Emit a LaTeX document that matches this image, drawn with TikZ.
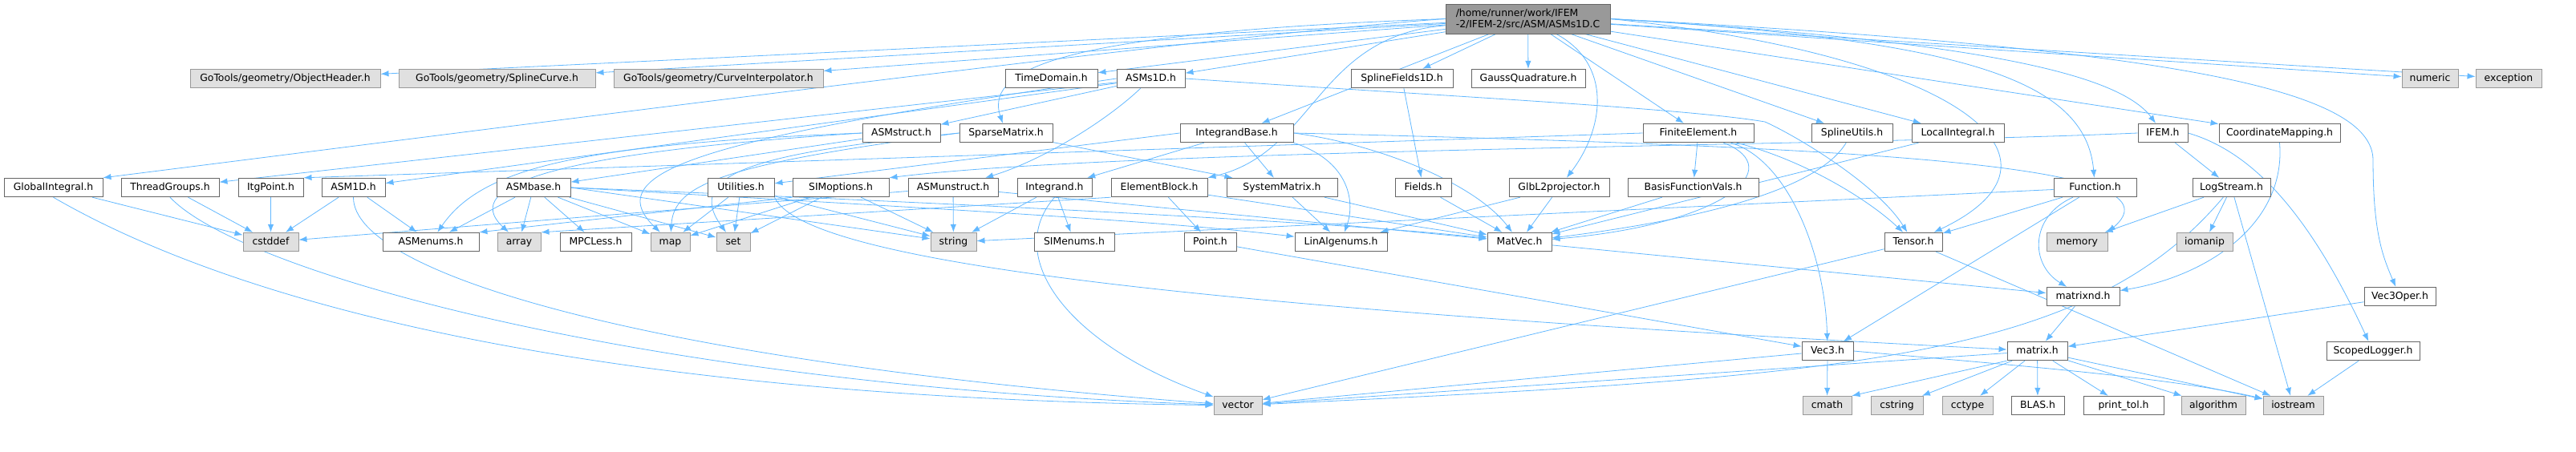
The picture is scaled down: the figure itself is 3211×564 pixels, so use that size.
\documentclass[tikz,border=0pt]{standalone}
\usepackage{fontspec}
\setmainfont{DejaVu Sans}
\usetikzlibrary{arrows.meta}
\definecolor{edgeblue}{HTML}{63B8FF}
\definecolor{boxline}{HTML}{666666}
\definecolor{sysline}{HTML}{999999}
\definecolor{sysfill}{HTML}{E0E0E0}
\definecolor{rootfill}{HTML}{999999}
\pgfdeclarelayer{back}
\pgfsetlayers{back,main}
\tikzset{>={Latex[length=10pt,width=7.5pt]},%
  nbox/.style={draw=boxline,fill=white,line width=0.9pt,inner xsep=2pt,inner ysep=0pt,
    font=\fontsize{12.4}{14.3}\selectfont},
  hdr/.style={nbox,minimum height=23.5pt,text height=9pt,text depth=2.6pt},
  sys/.style={hdr,draw=sysline,fill=sysfill},
  rootbox/.style={nbox,fill=rootfill,align=left,minimum height=37pt},
  dep/.style={->,draw=edgeblue,line width=0.8pt}}

\begin{document}
\begin{tikzpicture}[x=1pt,y=-1pt]
\useasboundingbox (0,0) rectangle (3211,564);

\node[rootbox,minimum width=205pt] (root) at (1904.5,23.5) {/home/runner/work/IFEM\\-2/IFEM-2/src/ASM/ASMs1D.C};

\node[sys,minimum width=237pt] (objhdr) at (355.5,98) {GoTools/geometry/ObjectHeader.h};
\node[sys,minimum width=245pt] (splcurve) at (619.5,98) {GoTools/geometry/SplineCurve.h};
\node[sys,minimum width=261pt] (curveint) at (895.5,98) {GoTools/geometry/CurveInterpolator.h};
\node[hdr,minimum width=115pt] (timedom) at (1310.5,98) {TimeDomain.h};
\node[hdr,minimum width=85pt] (asmsh) at (1434.5,98) {ASMs1D.h};
\node[hdr,minimum width=127pt] (splfld) at (1747.5,98) {SplineFields1D.h};
\node[hdr,minimum width=142pt] (gauss) at (1905,98) {GaussQuadrature.h};
\node[sys,minimum width=70pt] (numeric) at (3029,98) {numeric};
\node[sys,minimum width=82pt] (exception) at (3127,98) {exception};

\node[hdr,minimum width=97pt] (asmstruct) at (1123.5,166) {ASMstruct.h};
\node[hdr,minimum width=116pt] (sparse) at (1254,166) {SparseMatrix.h};
\node[hdr,minimum width=141pt] (intbase) at (1541.5,166) {IntegrandBase.h};
\node[hdr,minimum width=138pt] (finite) at (2117,166) {FiniteElement.h};
\node[hdr,minimum width=101pt] (splutil) at (2308.5,166) {SplineUtils.h};
\node[hdr,minimum width=115pt] (locint) at (2440.5,166) {LocalIntegral.h};
\node[hdr,minimum width=62pt] (ifem) at (2696,166) {IFEM.h};
\node[hdr,minimum width=151pt] (coordmap) at (2841.5,166) {CoordinateMapping.h};

\node[hdr,minimum width=123pt] (globint) at (66.5,234) {GlobalIntegral.h};
\node[hdr,minimum width=122pt] (thread) at (212,234) {ThreadGroups.h};
\node[hdr,minimum width=81pt] (itg) at (337.5,234) {ItgPoint.h};
\node[hdr,minimum width=79pt] (asm1d) at (440.5,234) {ASM1D.h};
\node[hdr,minimum width=92pt] (asmbase) at (665,234) {ASMbase.h};
\node[hdr,minimum width=83pt] (util) at (923.5,234) {Utilities.h};
\node[hdr,minimum width=120pt] (simopt) at (1048,234) {SIMoptions.h};
\node[hdr,minimum width=112pt] (asmun) at (1188,234) {ASMunstruct.h};
\node[hdr,minimum width=93pt] (integrand) at (1314.5,234) {Integrand.h};
\node[hdr,minimum width=120pt] (elblock) at (1445,234) {ElementBlock.h};
\node[hdr,minimum width=138pt] (sysmat) at (1598,234) {SystemMatrix.h};
\node[hdr,minimum width=70pt] (fields) at (1774,234) {Fields.h};
\node[hdr,minimum width=125pt] (glbl2) at (1943.5,234) {GlbL2projector.h};
\node[hdr,minimum width=163pt] (basisfv) at (2110.5,234) {BasisFunctionVals.h};
\node[hdr,minimum width=103pt] (function) at (2611.5,234) {Function.h};
\node[hdr,minimum width=97pt] (logstream) at (2781.5,234) {LogStream.h};

\node[sys,minimum width=69pt] (cstddef) at (337.5,302) {cstddef};
\node[hdr,minimum width=120pt] (asmenums) at (537,302) {ASMenums.h};
\node[sys,minimum width=54pt] (array) at (647,302) {array};
\node[hdr,minimum width=89pt] (mpcless) at (742.5,302) {MPCLess.h};
\node[sys,minimum width=49pt] (map) at (835.5,302) {map};
\node[sys,minimum width=42pt] (set) at (914,302) {set};
\node[sys,minimum width=57pt] (string) at (1188.5,302) {string};
\node[hdr,minimum width=100pt] (simenums) at (1339,302) {SIMenums.h};
\node[hdr,minimum width=65pt] (point) at (1508.5,302) {Point.h};
\node[hdr,minimum width=115pt] (linalg) at (1671.5,302) {LinAlgenums.h};
\node[hdr,minimum width=80pt] (matvec) at (1894,302) {MatVec.h};
\node[hdr,minimum width=72pt] (tensor) at (2385,302) {Tensor.h};
\node[sys,minimum width=76pt] (memory) at (2589,302) {memory};
\node[sys,minimum width=70pt] (iomanip) at (2748,302) {iomanip};

\node[hdr,minimum width=91pt] (matrixnd) at (2596.5,370) {matrixnd.h};
\node[hdr,minimum width=89pt] (vec3oper) at (2991.5,370) {Vec3Oper.h};

\node[hdr,minimum width=64pt] (vec3) at (2278,438) {Vec3.h};
\node[hdr,minimum width=75pt] (matrix) at (2539.5,438) {matrix.h};
\node[hdr,minimum width=116pt] (scoped) at (2958,438) {ScopedLogger.h};

\node[sys,minimum width=60pt] (vector) at (1543,506) {vector};
\node[sys,minimum width=61pt] (cmath) at (2277.5,506) {cmath};
\node[sys,minimum width=65pt] (cstring) at (2364.5,506) {cstring};
\node[sys,minimum width=63pt] (cctype) at (2452.5,506) {cctype};
\node[hdr,minimum width=66pt] (blas) at (2540,506) {BLAS.h};
\node[hdr,minimum width=100pt] (printtol) at (2647,506) {print\_tol.h};
\node[sys,minimum width=80pt] (algorithm) at (2759,506) {algorithm};
\node[sys,minimum width=75pt] (iostream) at (2858.5,506) {iostream};

\begin{pgfonlayer}{back}
\draw[dep] (root) -- (objhdr);
\draw[dep] (root) -- (splcurve);
\draw[dep] (root) -- (curveint);
\draw[dep] (root) -- (timedom);
\draw[dep] (root) -- (asmsh);
\draw[dep] (root) -- (splfld);
\draw[dep] (root) -- (gauss);
\draw[dep] (root) -- (numeric);
\draw[dep] (root) -- (exception);
\draw[dep] (root.west) .. controls (1500,45) and (700,150) .. (globint.north east);
\draw[dep] (root.west) .. controls (1350,40) and (1225,80) .. (sparse);
\draw[dep] (root) -- (intbase);
\draw[dep] (root) .. controls (1640,45) and (1640,190) .. (elblock.north east);
\draw[dep] (root) -- (finite);
\draw[dep] (root) .. controls (2010,80) and (2000,160) .. (glbl2);
\draw[dep] (root) -- (splutil);
\draw[dep] (root) -- (locint);
\draw[dep] (root.east) .. controls (2450,70) and (2600,200) .. (tensor);
\draw[dep] (root.east) .. controls (2450,50) and (2600,100) .. (function);
\draw[dep] (root.east) .. controls (2450,50) and (2640,90) .. (ifem);
\draw[dep] (root) -- (coordmap);
\draw[dep] (root.east) .. controls (2700,60) and (2958,110) .. (2958,200) .. controls (2958,290) and (2970,320) .. (vec3oper);

\draw[dep] (asmsh) -- (asmstruct);
\draw[dep] (asmsh) -- (asm1d);
\draw[dep] (asmsh) -- (thread);
\draw[dep] (asmsh) .. controls (1380,150) and (1300,200) .. (asmun);
\draw[dep] (asmsh.east) .. controls (1800,120) and (2100,135) .. (2200,152) .. controls (2240,170) and (2340,230) .. (tensor);
\draw[dep] (asmsh.west) .. controls (900,170) and (740,210) .. (map);

\draw[dep] (asmstruct) -- (asmbase);
\draw[dep] (asmstruct.west) .. controls (700,190) and (570,230) .. (array);
\draw[dep] (asmstruct.west) .. controls (720,180) and (600,210) .. (asmenums);

\draw[dep] (sparse) -- (sysmat);
\draw[dep] (sparse.west) .. controls (950,190) and (850,215) .. (set);
\draw[dep] (sparse.west) .. controls (900,205) and (840,230) .. (map);

\draw[dep] (intbase) -- (integrand);
\draw[dep] (intbase) -- (sysmat);
\draw[dep] (intbase.south east) .. controls (1680,200) and (1690,250) .. (linalg);
\draw[dep] (intbase.east) .. controls (1720,180) and (1840,230) .. (matvec);
\draw[dep] (intbase.west) -- (util);
\draw[dep] (intbase.east) .. controls (2400,185) and (2720,210) .. (memory.north east);

\draw[dep] (finite) -- (basisfv);
\draw[dep] (finite.west) -- (itg.north east);
\draw[dep] (finite) .. controls (2250,200) and (2330,250) .. (tensor);
\draw[dep] (finite) .. controls (2230,200) and (2275,320) .. (vec3);
\draw[dep] (finite) .. controls (2230,210) and (2150,280) .. (matvec);
\draw[dep] (splutil) .. controls (2270,230) and (2150,270) .. (matvec);
\draw[dep] (locint) -- (matvec);

\draw[dep] (ifem) -- (logstream);
\draw[dep] (ifem.west) .. controls (2300,182) and (1400,186) .. (simopt.north east);
\draw[dep] (ifem.east) .. controls (2810,190) and (2880,270) .. (scoped);
\draw[dep] (coordmap.south) .. controls (2850,280) and (2750,345) .. (matrixnd);

\draw[dep] (globint) -- (cstddef);
\draw[dep] (globint.south) .. controls (280,370) and (700,495) .. (vector);
\draw[dep] (thread) -- (cstddef);
\draw[dep] (thread.south) .. controls (300,340) and (800,480) .. (vector);
\draw[dep] (itg) -- (cstddef);
\draw[dep] (asm1d) -- (cstddef);
\draw[dep] (asm1d) -- (asmenums);
\draw[dep] (asm1d.south) .. controls (440,340) and (800,450) .. (vector);

\draw[dep] (asmbase) -- (asmenums);
\draw[dep] (asmbase) -- (array);
\draw[dep] (asmbase) -- (mpcless);
\draw[dep] (asmbase) -- (map);
\draw[dep] (asmbase) -- (set);
\draw[dep] (asmbase.east) -- (string);
\draw[dep] (asmbase.east) .. controls (1200,262) and (1450,276) .. (linalg);
\draw[dep] (asmbase.east) .. controls (1300,258) and (1700,280) .. (matvec);

\draw[dep] (util) -- (map);
\draw[dep] (util) -- (set);
\draw[dep] (util) -- (string);
\draw[dep] (util.south east) .. controls (1000,320) and (1400,380) .. (matrix);

\draw[dep] (simopt.south west) -- (asmenums.north east);
\draw[dep] (simopt) -- (map);
\draw[dep] (simopt) -- (set);
\draw[dep] (simopt) -- (string);

\draw[dep] (asmun) -- (string);
\draw[dep] (asmun) -- (cstddef);
\draw[dep] (asmun) -- (matvec);

\draw[dep] (integrand) -- (string);
\draw[dep] (integrand) -- (simenums);
\draw[dep] (integrand.south) .. controls (1250,320) and (1330,430) .. (vector);

\draw[dep] (elblock) -- (point);
\draw[dep] (elblock) -- (matvec);
\draw[dep] (elblock.south west) -- (array.north east);

\draw[dep] (sysmat) -- (linalg);
\draw[dep] (sysmat) -- (matvec);
\draw[dep] (splfld) -- (fields);
\draw[dep] (fields) -- (matvec);
\draw[dep] (glbl2) -- (matvec);
\draw[dep] (glbl2) -- (linalg);
\draw[dep] (basisfv) -- (matvec);

\draw[dep] (function) -- (tensor);
\draw[dep] (function) -- (vec3);
\draw[dep] (function) -- (string);
\draw[dep] (function) .. controls (2530,270) and (2530,330) .. (matrixnd);

\draw[dep] (logstream) -- (iomanip);
\draw[dep] (logstream) -- (memory);
\draw[dep] (logstream) -- (iostream);
\draw[dep] (logstream) .. controls (2600,450) and (2300,470) .. (vector);

\draw[dep] (point) -- (vec3);
\draw[dep] (matvec) -- (matrixnd);
\draw[dep] (matrixnd) -- (matrix);
\draw[dep] (vec3oper) -- (matrix);
\draw[dep] (scoped) -- (iostream);

\draw[dep] (tensor) -- (vector);
\draw[dep] (tensor) -- (iostream);
\draw[dep] (vec3) -- (vector);
\draw[dep] (vec3) -- (cmath);
\draw[dep] (vec3.east) .. controls (2500,455) and (2700,470) .. (iostream);

\draw[dep] (matrix) -- (vector);
\draw[dep] (matrix.south west) -- (cmath.north east);
\draw[dep] (matrix) -- (cstring);
\draw[dep] (matrix) -- (cctype);
\draw[dep] (matrix) -- (blas);
\draw[dep] (matrix) -- (printtol);
\draw[dep] (matrix) -- (algorithm);
\draw[dep] (matrix) -- (iostream);
\end{pgfonlayer}
\end{tikzpicture}
\end{document}
